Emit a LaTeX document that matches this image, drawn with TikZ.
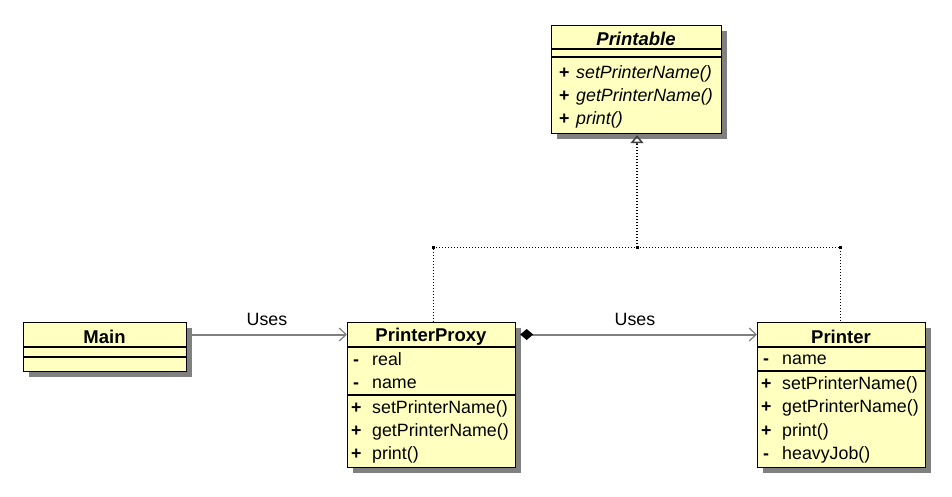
\documentclass[tikz,border=0pt]{standalone}
\usepackage{fontspec}
\setmainfont{Liberation Sans}
\usepackage{tikz}
\usetikzlibrary{arrows.meta,shadows}

\definecolor{classfill}{RGB}{255,255,192}
\definecolor{linegray}{RGB}{128,128,128}

\tikzset{
  classbox/.style={draw=black, line width=1.2pt, fill=classfill, anchor=north west,
    inner sep=0pt, drop shadow={shadow xshift=5pt, shadow yshift=-5pt, fill=linegray, opacity=1}},
  head/.style={yshift=-2pt, font=\fontsize{18.5}{21}\selectfont\bfseries},
  member/.style={anchor=mid west, inner sep=0pt, yshift=-2.5pt, font=\fontsize{17.8}{21}\selectfont},
  vis/.style={anchor=mid west, inner sep=0pt, yshift=-2.5pt, font=\fontsize{17.8}{21}\selectfont\bfseries},
  assoc/.style={draw=linegray, line width=2pt, -{Straight Barb[length=7pt,width=13pt,line width=1.2pt]}},
  realize/.style={draw=black, line width=1pt, dash pattern=on 1pt off 2pt},
  label/.style={font=\fontsize{17.8}{21}\selectfont}
}

\begin{document}
\begin{tikzpicture}[x=1pt,y=-1pt]
\useasboundingbox (0,0) rectangle (952,496);

% Printable interface
\node[classbox, minimum width=170pt, minimum height=108pt] (printable) at (551,25) {};
\draw[line width=1.2pt] (551,49) -- (721,49);
\draw[line width=1.2pt] (551,57) -- (721,57);
\node[head, font=\fontsize{18.5}{21}\selectfont\bfseries\itshape] (printablehead) at (636,37) {Printable};
\node[vis] at (559,73) {+};
\node[member, font=\fontsize{17.8}{21}\selectfont\itshape] at (576,73) {setPrinterName()};
\node[vis] at (559,96) {+};
\node[member, font=\fontsize{17.8}{21}\selectfont\itshape] at (576,96) {getPrinterName()};
\node[vis] at (559,119) {+};
\node[member, font=\fontsize{17.8}{21}\selectfont\itshape] at (576,119) {print()};

% Main
\node[classbox, minimum width=163pt, minimum height=49pt] (main) at (23,322) {};
\draw[line width=1.2pt] (23,347) -- (186,347);
\draw[line width=1.2pt] (23,357) -- (186,357);
\node[head] (mainhead) at (104.5,334.5) {Main};

% PrinterProxy
\node[classbox, minimum width=168pt, minimum height=145pt] (proxy) at (347,322) {};
\draw[line width=1.2pt] (347,347) -- (515,347);
\draw[line width=1.2pt] (347,395) -- (515,395);
\node[head] (proxyhead) at (431,334.5) {PrinterProxy};
\node[vis] at (353,360) {-};
\node[member] at (372,360) {real};
\node[vis] at (353,383) {-};
\node[member] at (372,383) {name};
\node[vis] at (351,408) {+};
\node[member] at (372,408) {setPrinterName()};
\node[vis] at (351,431) {+};
\node[member] at (372,431) {getPrinterName()};
\node[vis] at (351,454) {+};
\node[member] at (372,454) {print()};

% Printer
\node[classbox, minimum width=168pt, minimum height=145pt] (printer) at (757,322) {};
\draw[line width=1.2pt] (757,347) -- (925,347);
\draw[line width=1.2pt] (757,371) -- (925,371);
\node[head] (printerhead) at (841,334.5) {Printer};
\node[vis] at (763,359) {-};
\node[member] at (782,359) {name};
\node[vis] at (761,384) {+};
\node[member] at (782,384) {setPrinterName()};
\node[vis] at (761,407) {+};
\node[member] at (782,407) {getPrinterName()};
\node[vis] at (761,431) {+};
\node[member] at (782,431) {print()};
\node[vis] at (763,454) {-};
\node[member] at (782,454) {heavyJob()};

% Associations
\draw[assoc] ([yshift=2pt]mainhead -| main.east) -- ([yshift=2pt]mainhead -| proxy.west);
\node[label] (uses1) at (267,319) {Uses};
\coordinate (dia) at ([xshift=4pt,yshift=2pt]proxyhead -| proxy.east);
\draw[assoc] ([xshift=12pt]dia) -- ([yshift=2pt]proxyhead -| printer.west);
\fill[black] (dia) -- ++(6.5,-5.5) -- ++(6.5,5.5) -- ++(-6.5,5.5) -- cycle;
\node[label] (uses2) at (635,319) {Uses};

% Realization
\coordinate (jl) at (433,247);
\coordinate (jm) at (637,247);
\coordinate (jr) at (840,247);
\draw[realize] (jl |- proxy.north) -- (jl) -- (jr) -- (jr |- printer.north);
\draw[realize, line width=1.6pt] (jm) -- ([yshift=-10pt]jm |- printable.south);
\draw[draw=black!75, line width=1.5pt, fill=white, -{Triangle[open,length=8pt,width=13pt]}]
  ([yshift=-10pt]jm |- printable.south) -- ([yshift=-1pt]jm |- printable.south);
\foreach \p in {jl,jm,jr}
  \fill (\p) ++(-1.5,-1.5) rectangle ++(3,3);
\end{tikzpicture}
\end{document}
